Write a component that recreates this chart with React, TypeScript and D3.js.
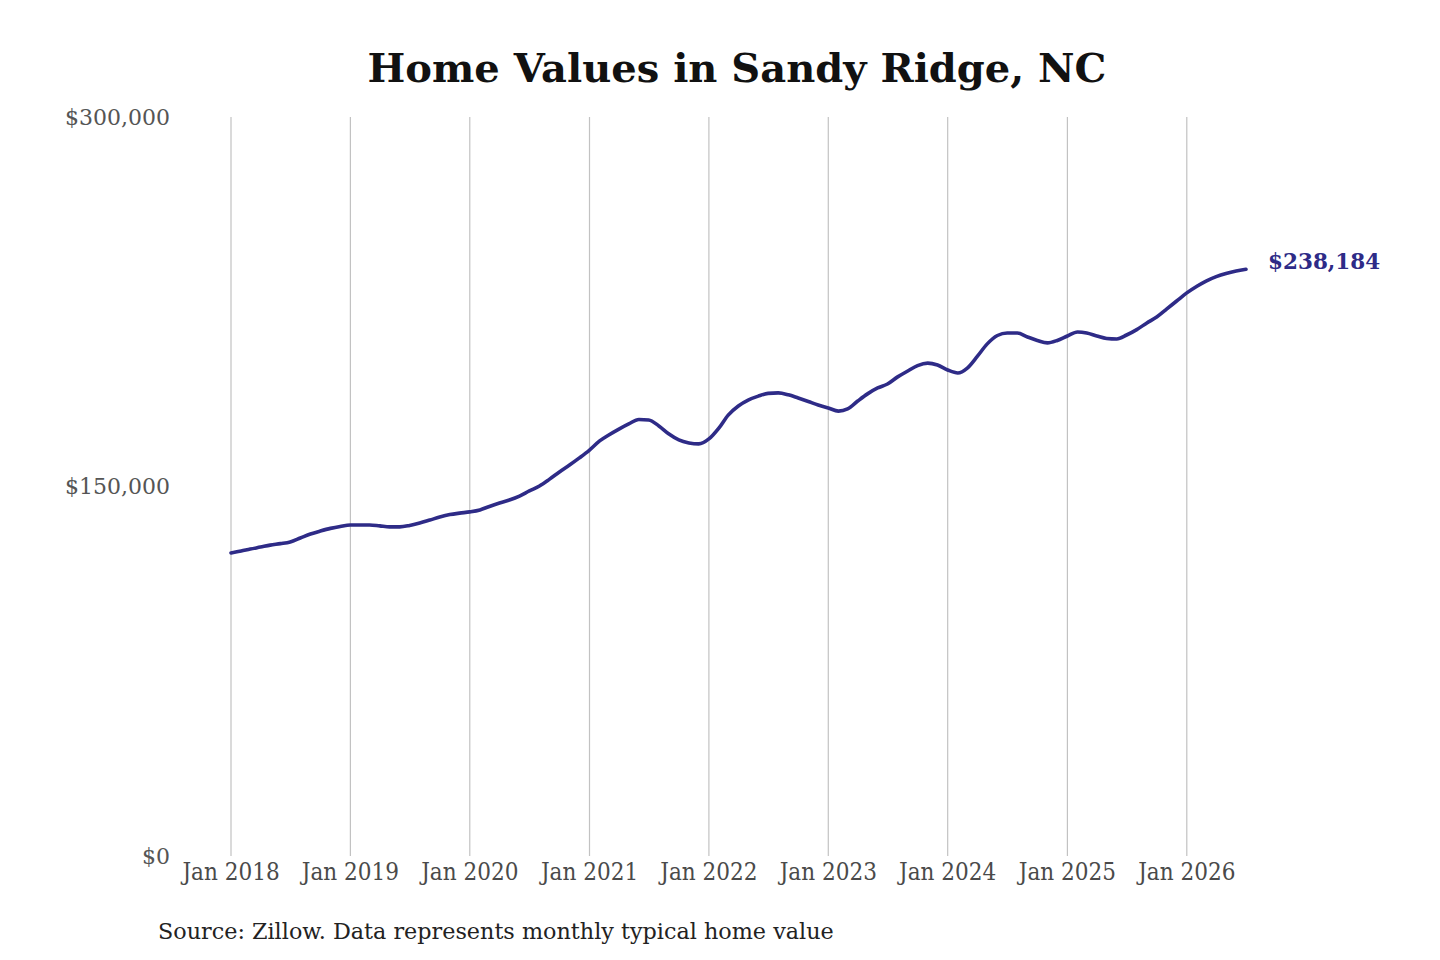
import { useEffect, useRef } from 'react';
import * as d3 from 'd3';

// monthly typical home value, Jan 2018 .. Jul 2026 (thousands of $)
const values2018 = [123.0, 123.8, 124.6, 125.4, 126.2, 126.8, 127.5, 129.1, 130.7, 131.9, 133.0, 133.8];
const values2019 = [134.4, 134.4, 134.4, 134.0, 133.6, 133.6, 134.2, 135.2, 136.4, 137.6, 138.6, 139.2];
const values2020 = [139.7, 140.5, 141.9, 143.3, 144.5, 146.1, 148.2, 150.2, 153.0, 155.9, 158.7, 161.6];
const values2021 = [164.8, 168.5, 170.9, 173.3, 175.4, 177.2, 177.0, 174.6, 171.3, 168.9, 167.7, 167.3];
const values2022 = [169.3, 173.8, 179.0, 182.7, 185.1, 186.7, 187.8, 188.0, 187.2, 185.9, 184.5, 183.1];
const values2023 = [181.9, 180.6, 181.5, 184.7, 187.6, 190.0, 191.6, 194.5, 196.9, 199.1, 200.1, 199.3];
const values2024 = [197.3, 196.1, 198.1, 202.9, 207.9, 211.3, 212.3, 212.3, 210.7, 209.3, 208.3, 209.3];
const values2025 = [211.1, 212.7, 212.3, 211.1, 210.1, 209.9, 211.5, 213.7, 216.4, 218.8, 222.1, 225.3];
const values2026 = [228.6, 231.3, 233.4, 235.2, 236.5, 237.5, 238.184];

const yTicks = [0, 150000, 300000];
const xTickYears = [2018, 2019, 2020, 2021, 2022, 2023, 2024, 2025, 2026];
const lastLabel = '$238,184';

const title = 'Home Values in Sandy Ridge, NC';
const source = 'Source: Zillow. Data represents monthly typical home value';

const allValues = [
  ...values2018, ...values2019, ...values2020, ...values2021, ...values2022,
  ...values2023, ...values2024, ...values2025, ...values2026,
];
const series = allValues.map((v, i) => ({ date: new Date(2018, i, 1), value: v * 1000 }));

const LINE = '#2e2b87';
const SERIF = '"DejaVu Serif", serif';
const CONDENSED = '"DejaVu Serif Condensed", "DejaVu Serif", serif';

function HomeValueChart() {
  const svgRef = useRef<SVGSVGElement>(null);

  useEffect(() => {
    if (!svgRef.current) return;
    const width = 1440;
    const height = 960;
    const svg = d3.select(svgRef.current);
    svg.selectAll('*').remove();
    svg.attr('width', width).attr('height', height);

    const top = 117;
    const bottom = 856;
    const x = d3.scaleTime()
      .domain([new Date(2018, 0, 1), series[series.length - 1].date])
      .range([231, 1246]);
    const y = d3.scaleLinear().domain([0, 300000]).range([bottom, top]);

    svg.append('rect').attr('width', width).attr('height', height).attr('fill', '#fff');

    svg.append('text').attr('x', 737).attr('y', 82)
      .attr('text-anchor', 'middle').attr('font-family', SERIF).attr('font-weight', 'bold')
      .attr('font-size', 40).attr('fill', '#111').text(title);

    const ticks = xTickYears.map(yr => new Date(yr, 0, 1));

    // vertical gridlines
    svg.append('g').selectAll('line').data(ticks).join('line')
      .attr('x1', d => x(d)).attr('x2', d => x(d))
      .attr('y1', top).attr('y2', bottom)
      .attr('stroke', '#c2c2c2').attr('stroke-width', 1.2);

    // x tick labels
    svg.append('g').selectAll('text').data(ticks).join('text')
      .attr('x', d => x(d)).attr('y', 880)
      .attr('text-anchor', 'middle').attr('font-family', CONDENSED)
      .attr('font-size', 24).attr('fill', '#4a4a4a')
      .text(d => d3.timeFormat('Jan %Y')(d));

    // y tick labels
    svg.append('g').selectAll('text').data(yTicks).join('text')
      .attr('x', 170).attr('y', d => y(d)).attr('dy', '0.35em')
      .attr('text-anchor', 'end').attr('font-family', SERIF)
      .attr('font-size', 22).attr('fill', '#555')
      .text(d => d3.format('$,')(d));

    const line = d3.line<{ date: Date; value: number }>()
      .x(d => x(d.date)).y(d => y(d.value))
      .curve(d3.curveMonotoneX);
    svg.append('path').datum(series).attr('fill', 'none')
      .attr('stroke', LINE).attr('stroke-width', 3.6)
      .attr('stroke-linejoin', 'round').attr('stroke-linecap', 'round')
      .attr('d', line);

    const last = series[series.length - 1];
    svg.append('text').attr('x', x(last.date) + 22).attr('y', y(last.value))
      .attr('font-family', SERIF).attr('font-weight', 'bold')
      .attr('font-size', 21.5).attr('fill', LINE).text(lastLabel);

    svg.append('text').attr('x', 158).attr('y', 939)
      .attr('font-family', SERIF).attr('font-size', 22.3).attr('fill', '#222')
      .text(source);
  }, []);

  return <svg ref={svgRef} style={{ display: 'block' }} />;
}

export default function App() {
  return (
    <div style={{ margin: -8 }}>
      <HomeValueChart />
    </div>
  );
}
